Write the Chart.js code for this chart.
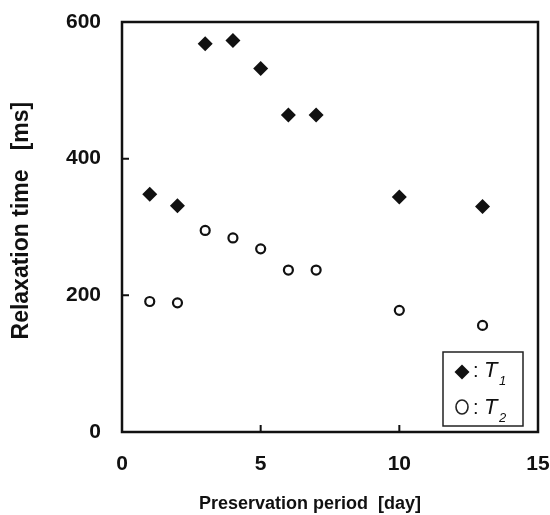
<!DOCTYPE html>
<html>
<head>
<meta charset="utf-8">
<script src="https://cdn.jsdelivr.net/npm/chart.js@4/dist/chart.umd.min.js"></script>
<style>
  html, body { margin: 0; padding: 0; background: #ffffff; }
  #wrap { width: 550px; height: 515px; }
</style>
</head>
<body>
<div id="wrap"><canvas id="c" width="550" height="515"></canvas></div>
<script>
// Data
const days = [1, 2, 3, 4, 5, 6, 7, 10, 13];
const t1Values = [348, 331, 568, 573, 532, 464, 464, 344, 330];
const t2Values = [191, 189, 295, 284, 268, 237, 237, 178, 156];
const xTicks = [0, 5, 10, 15];
const yTicks = [0, 200, 400, 600];
const innerXTicks = [5, 10];
const innerYTicks = [200, 400];
const seriesNames = ['T1', 'T2'];

const FONT = "'Liberation Sans', Arial, sans-serif";

const toPoints = (xs, ys) => xs.map((x, i) => ({ x: x, y: ys[i] }));

const framePlugin = {
  id: 'frame',
  afterDraw(chart) {
    const ctx = chart.ctx;
    const a = chart.chartArea;
    const xs = chart.scales.x, ys = chart.scales.y;
    ctx.save();
    ctx.strokeStyle = '#111';
    ctx.lineWidth = 2.5;
    ctx.strokeRect(a.left, a.top, a.right - a.left, a.bottom - a.top);
    ctx.lineWidth = 2;
    ctx.beginPath();
    innerYTicks.forEach(v => {
      const py = ys.getPixelForValue(v);
      ctx.moveTo(a.left, py); ctx.lineTo(a.left + 7, py);
    });
    innerXTicks.forEach(v => {
      const px = xs.getPixelForValue(v);
      ctx.moveTo(px, a.bottom); ctx.lineTo(px, a.bottom - 7);
    });
    ctx.stroke();

    // legend box
    const bx = a.right - 95, by = a.bottom - 80, bw = 80, bh = 74;
    ctx.lineWidth = 1.5;
    ctx.strokeStyle = '#222';
    ctx.strokeRect(bx, by, bw, bh);
    // diamond
    const dx = bx + 19, dy = by + 20;
    ctx.fillStyle = '#111';
    ctx.beginPath();
    ctx.moveTo(dx - 7.5, dy); ctx.lineTo(dx, dy - 7.5); ctx.lineTo(dx + 7.5, dy); ctx.lineTo(dx, dy + 7.5);
    ctx.closePath(); ctx.fill();
    // circle (O)
    const cx = bx + 19, cy = by + 55;
    ctx.beginPath();
    ctx.ellipse(cx, cy, 6, 7, 0, 0, Math.PI * 2);
    ctx.lineWidth = 1.6;
    ctx.stroke();
    // texts
    ctx.textBaseline = 'alphabetic';
    ctx.textAlign = 'left';
    ctx.fillStyle = '#111';
    const rows = [[by + 25, seriesNames[0]], [by + 62, seriesNames[1]]];
    rows.forEach(([base, name]) => {
      ctx.font = '20px ' + FONT;
      ctx.fillText(':', bx + 30, base);
      ctx.font = 'italic 22px ' + FONT;
      ctx.fillText(name[0], bx + 41, base);
      ctx.font = 'italic 13px ' + FONT;
      ctx.fillText(name.slice(1), bx + 56, base + 8);
    });
    ctx.restore();
  }
};

new Chart(document.getElementById('c'), {
  type: 'scatter',
  data: {
    datasets: [
      {
        label: seriesNames[0],
        data: toPoints(days, t1Values),
        pointStyle: 'rectRot',
        pointRadius: 7.5,
        pointHoverRadius: 7.5,
        backgroundColor: '#111',
        borderColor: '#111',
        borderWidth: 0
      },
      {
        label: seriesNames[1],
        data: toPoints(days, t2Values),
        pointStyle: 'circle',
        pointRadius: 4.5,
        pointHoverRadius: 4.5,
        backgroundColor: '#ffffff',
        borderColor: '#111',
        borderWidth: 2.2
      }
    ]
  },
  options: {
    responsive: false,
    animation: false,
    events: [],
    layout: { padding: { top: 22, right: 12, bottom: 0, left: 0 } },
    plugins: {
      legend: { display: false },
      tooltip: { enabled: false }
    },
    scales: {
      x: {
        type: 'linear',
        min: 0, max: 15,
        afterBuildTicks: s => { s.ticks = xTicks.map(v => ({ value: v })); },
        afterFit: s => { s.height = 83; s.paddingLeft = 0; s.paddingRight = 0; },
        grid: { display: false, drawTicks: false },
        border: { display: false },
        ticks: {
          color: '#111',
          padding: 20,
          maxRotation: 0,
          font: { family: FONT, size: 21, weight: 'bold' }
        },
        title: {
          display: true,
          text: 'Preservation period  [day]        ',
          color: '#111',
          padding: { top: 4, bottom: 0 },
          font: { family: FONT, size: 18, weight: 'bold' }
        }
      },
      y: {
        type: 'linear',
        min: 0, max: 600,
        afterBuildTicks: s => { s.ticks = yTicks.map(v => ({ value: v })); },
        afterFit: s => { s.width = 122; s.paddingTop = 0; s.paddingBottom = 0; },
        grid: { display: false, drawTicks: false },
        border: { display: false },
        ticks: {
          color: '#111',
          padding: 21,
          font: { family: FONT, size: 21, weight: 'bold' }
        },
        title: {
          display: true,
          text: '  Relaxation time   [ms]',
          color: '#111',
          padding: { top: 8, bottom: 0 },
          font: { family: FONT, size: 23, weight: 'bold' }
        }
      }
    }
  },
  plugins: [framePlugin]
});
</script>
</body>
</html>
